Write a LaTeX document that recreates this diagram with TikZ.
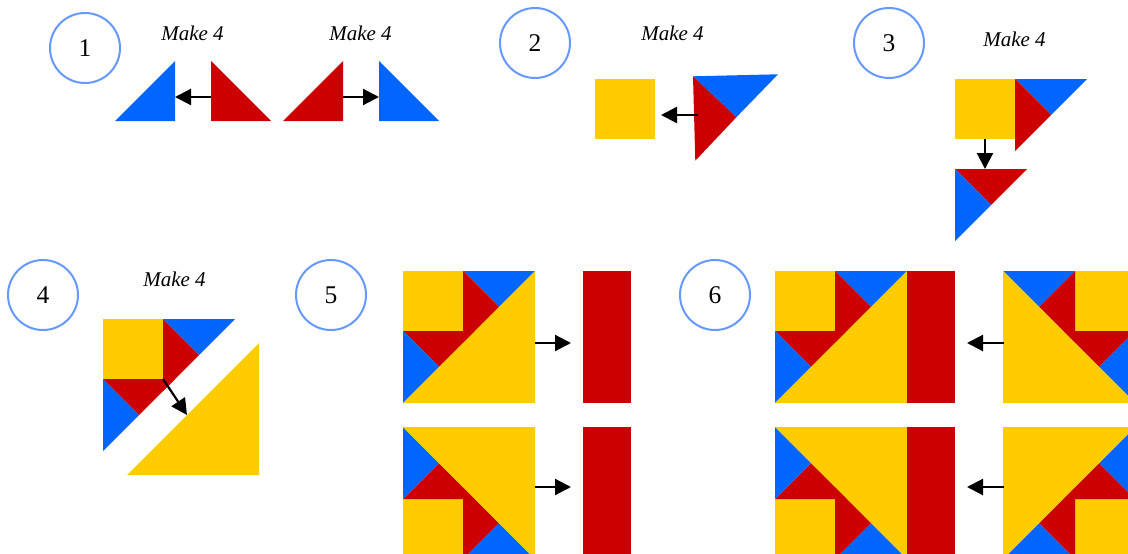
\documentclass[tikz,border=0pt]{standalone}
\usepackage{fontspec}
\setmainfont{Liberation Serif}
\usetikzlibrary{arrows.meta}
\definecolor{qblue}{HTML}{0066FF}
\definecolor{qred}{HTML}{CC0000}
\definecolor{qyellow}{HTML}{FFCC00}
\definecolor{qring}{HTML}{6699FF}
\tikzset{
  ring/.style={circle,draw=qring,line width=2pt,fill=white,minimum size=70pt,inner sep=0pt,font=\fontsize{25.5}{25.5}\selectfont},
  maketext/.style={inner sep=0pt,anchor=base,font=\fontsize{21}{21}\selectfont\itshape},
  arrowline/.style={line width=2.2pt,-{Triangle[length=16pt,width=16pt]}},
  blue/.style={fill=qblue},
  red/.style={fill=qred},
  yellow/.style={fill=qyellow}
}
\newcommand{\qsquare}{\path[yellow] (0,0) rectangle (60,60);}
\newcommand{\qtopunit}{\path[blue] (60,0)--(132,0)--(96,36)--cycle;
  \path[red] (60,0)--(96,36)--(60,72)--cycle;}
\newcommand{\qsideunit}{\path[red] (0,60)--(72,60)--(36,96)--cycle;
  \path[blue] (0,60)--(36,96)--(0,132)--cycle;}
\newcommand{\qbigtri}{\path[yellow] (0,132)--(132,0)--(132,132)--cycle;}
\newcommand{\qblock}{\qsquare\qtopunit\qsideunit\qbigtri}
\begin{document}
\begin{tikzpicture}[x=1pt,y=-1pt]
\clip (0,0) rectangle (1128,554);
\fill[white] (0,0) rectangle (1128,554);
% labels
\node[ring] (c1) at (85,48) {1};
\node[ring] (c2) at (535,43) {2};
\node[ring] (c3) at (889,43) {3};
\node[ring] (c4) at (43,295) {4};
\node[ring] (c5) at (331,295) {5};
\node[ring] (c6) at (715,295) {6};
\node[maketext] (m1) at (192.5,40) {Make 4};
\node[maketext] (m2) at (360.5,40) {Make 4};
\node[maketext] (m3) at (672.5,40) {Make 4};
\node[maketext] (m4) at (1014.5,46) {Make 4};
\node[maketext] (m5) at (174.5,286) {Make 4};
% step 1
\path[blue] (115,121)--(175,61)--(175,121)--cycle;
\path[red] (211,61)--(271,121)--(211,121)--cycle;
\path[red] (283,121)--(343,61)--(343,121)--cycle;
\path[blue] (379,61)--(439,121)--(379,121)--cycle;
\coordinate (a1s) at (211,97); \coordinate (a1e) at (175,97);
\coordinate (a2s) at (343,97); \coordinate (a2e) at (379,97);
% step 2
\path[yellow] (595,79) rectangle (655,139);
\path[blue] (693,76.3)--(778,74.3)--(736.3,117.3)--cycle;
\path[red] (693,76.3)--(736.3,117.3)--(695.3,160.7)--cycle;
\coordinate (a3s) at (698,115); \coordinate (a3e) at (661,115);
% step 3
\begin{scope}[shift={(955,79)}]
  \qsquare\qtopunit
\end{scope}
\begin{scope}[shift={(955,109)}]
  \qsideunit
\end{scope}
\coordinate (a4s) at (985,139); \coordinate (a4e) at (985,169);
% step 4
\begin{scope}[shift={(103,319)}]
  \qsquare\qtopunit\qsideunit
\end{scope}
\begin{scope}[shift={(127,343)}]
  \qbigtri
\end{scope}
\coordinate (a5s) at (163,379); \coordinate (a5e) at (187,415);
% step 5
\begin{scope}[shift={(403,271)}] \qblock \end{scope}
\begin{scope}[shift={(403,559)},yscale=-1] \qblock \end{scope}
\path[red] (583,271) rectangle (631,403);
\path[red] (583,427) rectangle (631,559);
\coordinate (a6s) at (534.5,343); \coordinate (a6e) at (571,343);
\coordinate (a7s) at (534.5,487); \coordinate (a7e) at (571,487);
% step 6
\begin{scope}[shift={(775,271)}] \qblock \end{scope}
\begin{scope}[shift={(775,559)},yscale=-1] \qblock \end{scope}
\path[red] (907,271) rectangle (955,403);
\path[red] (907,427) rectangle (955,559);
\begin{scope}[shift={(1135,271)},xscale=-1] \qblock \end{scope}
\begin{scope}[shift={(1135,559)},xscale=-1,yscale=-1] \qblock \end{scope}
\coordinate (a8s) at (1004,343); \coordinate (a8e) at (967,343);
\coordinate (a9s) at (1004,487); \coordinate (a9e) at (967,487);
% arrows
\foreach \n in {1,...,9} \draw[arrowline] (a\n s) -- (a\n e);
\end{tikzpicture}
\end{document}
